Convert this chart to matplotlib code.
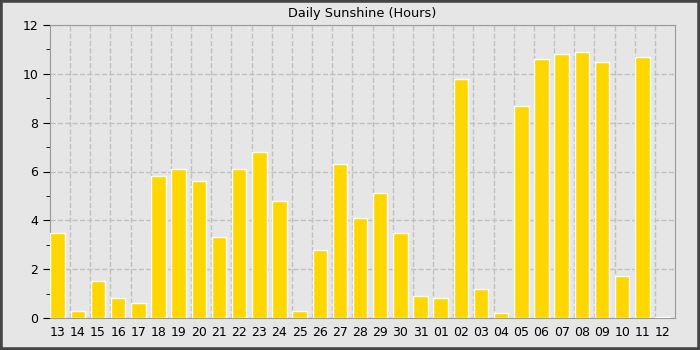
import matplotlib
matplotlib.use('Agg')
import matplotlib.pyplot as plt
from matplotlib.patches import Rectangle
from matplotlib.ticker import MultipleLocator

days = ['13', '14', '15', '16', '17', '18', '19', '20', '21', '22', '23', '24',
        '25', '26', '27', '28', '29', '30', '31', '01', '02', '03', '04', '05',
        '06', '07', '08', '09', '10', '11', '12']
sunshine = [3.5, 0.3, 1.5, 0.8, 0.6, 5.8, 6.1, 5.6, 3.3, 6.1, 6.8, 4.8,
            0.3, 2.8, 6.3, 4.1, 5.1, 3.5, 0.9, 0.8, 9.8, 1.2, 0.2, 8.7,
            10.6, 10.8, 10.9, 10.5, 1.7, 10.7, 0.05]

bg = '#e6e6e6'
n = len(days)
fig = plt.figure(figsize=(7, 3.5), dpi=100, facecolor=bg)
ax = fig.add_axes([50 / 700, 1 - 318 / 350, 625 / 700, 293 / 350])
ax.set_facecolor(bg)

# bars sit at the left of each day slot, grid lines on the slot edges
bw = 0.72
lefts = [i + 0.02 for i in range(n)]
ax.bar(lefts, sunshine, width=bw, align='edge', color='#ffd700',
       edgecolor='white', linewidth=1, zorder=3)

ax.set_xlim(0, n)
ax.set_ylim(0, 12)
ax.set_xticks([l + bw / 2 for l in lefts])
ax.set_xticklabels(days)
ax.set_xticks(list(range(1, n)), minor=True)
ax.yaxis.set_major_locator(MultipleLocator(2))
ax.yaxis.set_minor_locator(MultipleLocator(1))

ax.tick_params(axis='x', which='both', length=0, labelsize=9, pad=6)
ax.tick_params(axis='y', which='major', length=5, labelsize=9)
ax.tick_params(axis='y', which='minor', length=3)

ax.grid(True, which='major', axis='y', color='#c0c0c0', linestyle='--', linewidth=1, zorder=0)
ax.grid(True, which='minor', axis='x', color='#c0c0c0', linestyle='--', linewidth=1, zorder=0)
for s in ax.spines.values():
    s.set_color('#999999')

ax.set_title('Daily Sunshine (Hours)', fontsize=9.3, pad=6)

# dark frame around the whole image
fig.patches.append(Rectangle((0, 0), 1, 1, transform=fig.transFigure,
                             fill=False, edgecolor='#444444', linewidth=4))

fig.savefig('out.png', dpi=100, facecolor=bg)
